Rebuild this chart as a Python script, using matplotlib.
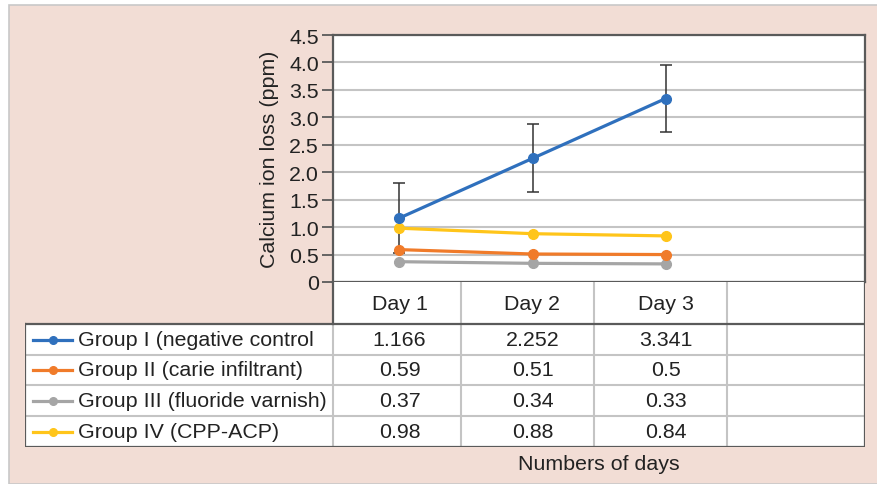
import matplotlib.pyplot as plt
from matplotlib.patches import Rectangle

plt.rcParams['font.family'] = ['Liberation Sans', 'DejaVu Sans']

days = ['Day 1', 'Day 2', 'Day 3']
groups = ['Group I (negative control', 'Group II (carie infiltrant)',
          'Group III (fluoride varnish)', 'Group IV (CPP-ACP)']
group1 = [1.166, 2.252, 3.341]
group2 = [0.59, 0.51, 0.5]
group3 = [0.37, 0.34, 0.33]
group4 = [0.98, 0.88, 0.84]
group1_err = [0.64, 0.62, 0.61]
values = [group1, group2, group3, group4]
colors = ['#2F70BD', '#F07B2A', '#A5A5A5', '#FFC51A']
yticks = [0, 0.5, 1.0, 1.5, 2.0, 2.5, 3.0, 3.5, 4.0, 4.5]
ytick_labels = ['0', '0.5', '1.0', '1.5', '2.0', '2.5', '3.0', '3.5', '4.0', '4.5']

W, H = 878, 485
pink = '#F2DDD5'
dark = '#5A5A5A'
light = '#C4C4C4'
fs = 15.4


def rect(x0, y0, x1, y1):
    return [x0 / W, 1 - y1 / H, (x1 - x0) / W, (y1 - y0) / H]


fig = plt.figure(figsize=(W / 100, H / 100), dpi=100, facecolor='white')
fig.patches.append(Rectangle((9.5 / W, 0), 1, 1 - 5.5 / H, transform=fig.transFigure,
                             facecolor=pink, edgecolor='#C8C8C8', lw=1.2, zorder=-5))

# main plot
ax = fig.add_axes(rect(333, 36, 865, 283))
ax.set_facecolor('white')
x = list(range(len(days)))
ax.errorbar(x, group1, yerr=group1_err, fmt='none', ecolor='#333333',
            elinewidth=1.1, capsize=4, capthick=1.1, zorder=2)
for vals, c in zip(values[::-1], colors[::-1]):
    ax.plot(x, vals, color=c, lw=2.3, marker='o', ms=7, zorder=3)
ax.set_xlim(-0.5, 3.5)
ax.set_ylim(0, 4.5)
ax.set_yticks(yticks)
ax.set_yticklabels(ytick_labels, fontsize=fs, color='#222222')
ax.set_xticks([])
ax.yaxis.grid(True, color=light, lw=1.5)
ax.set_axisbelow(True)
ax.tick_params(axis='y', length=8, width=1.3, color=dark, pad=2)
for s in ax.spines.values():
    s.set_color(dark)
    s.set_linewidth(1.6)
ax.set_ylabel('Calcium ion loss (ppm)', fontsize=fs, color='#222222')
ax.yaxis.set_label_coords((279 - 333) / 532, 0.5)

# data table below the plot
tab = fig.add_axes(rect(25, 283, 865, 448))
tab.set_axis_off()


def px(p):
    return -0.5 + (p - 333) / 133.0


left = px(25)
tab.set_xlim(left, 3.5)
tab.set_ylim(165, 0)
rows = [0, 42, 73, 103, 134, 165]
dividers = [0.46, 1.46, 2.46]

tab.add_patch(Rectangle((-0.5, 0), 4, 42, facecolor='white', edgecolor='none', zorder=0))
tab.add_patch(Rectangle((left, 42), 3.5 - left, 123, facecolor='white', edgecolor='none', zorder=0))
for r in rows[2:5]:
    tab.plot([left, 3.5], [r, r], color=light, lw=1.5)
for d in dividers + [-0.5]:
    y0 = 0 if d != -0.5 else 42
    tab.plot([d, d], [y0, 165], color=light, lw=1.5)
tab.plot([-0.5, -0.5], [0, 42], color=dark, lw=1.6)
tab.plot([left, 3.5], [42, 42], color=dark, lw=1.6)
tab.plot([left, 3.5], [165, 165], color=dark, lw=1.6)
tab.plot([left, left], [42, 165], color=dark, lw=1.6)
tab.plot([3.5, 3.5], [0, 165], color=dark, lw=1.6)

for i, d in enumerate(days):
    tab.text(i, 21, d, ha='center', va='center', fontsize=fs, color='#222222')
for k, (g, vals, c) in enumerate(zip(groups, values, colors)):
    yc = (rows[k + 1] + rows[k + 2]) / 2
    tab.plot([px(33), px(72)], [yc, yc], color=c, lw=2.3)
    tab.plot([px(52.5)], [yc], marker='o', ms=5.5, color=c)
    tab.text(px(78), yc, g, ha='left', va='center', fontsize=fs, color='#222222')
    for i, v in enumerate(vals):
        tab.text(i, yc, f'{v:g}', ha='center', va='center', fontsize=fs, color='#222222')

fig.text(599 / W, 1 - 465 / H, 'Numbers of days', ha='center', va='center',
         fontsize=fs, color='#222222')

fig.savefig('out.png', dpi=100, facecolor=fig.get_facecolor())
